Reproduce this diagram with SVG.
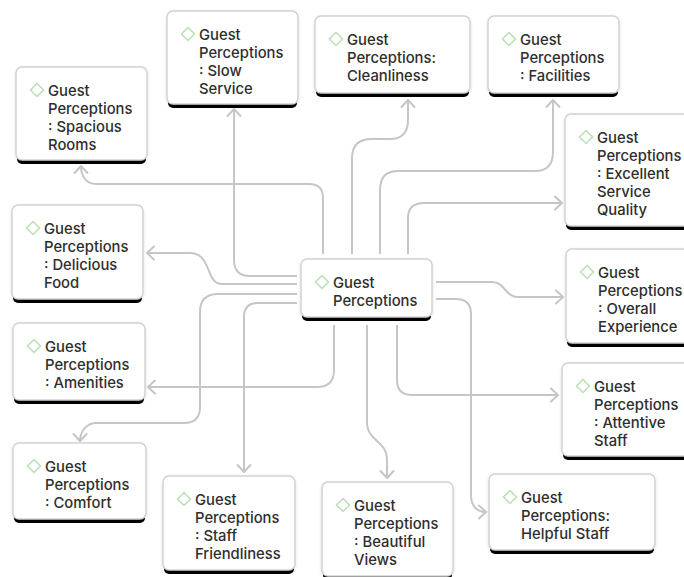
<svg xmlns="http://www.w3.org/2000/svg" width="684" height="577" viewBox="0 0 684 577">
<defs>
<style>
.bar{fill:#000}
.box{fill:#fff;stroke:#d2d2d2;stroke-width:1.5}
.dia{fill:none;stroke:#b9e0b2;stroke-width:1.5}
.t{font-family:Inter,"Liberation Sans",Arial,sans-serif;font-size:14.8px;font-weight:500;fill:#2e2e2e}
.c{fill:none;stroke:#c6c6c6;stroke-width:2}
</style>
<filter id="sh" x="-10%" y="-10%" width="120%" height="130%">
<feDropShadow dx="0" dy="1" stdDeviation="1.5" flood-color="#000" flood-opacity="0.12"/>
</filter>
<marker id="arr" viewBox="-9 -8 11 16" markerWidth="11" markerHeight="16" refX="0" refY="0" orient="auto" markerUnits="userSpaceOnUse">
<path d="M-7,-6.5 L0,0 L-7,6.5" fill="none" stroke="#c6c6c6" stroke-width="2" stroke-linecap="round" stroke-linejoin="round"/>
</marker>
<path id="d" d="M0,-6.5 L6.5,0 L0,6.5 L-6.5,0 Z"/>
</defs>
<rect width="684" height="577" fill="#fff"/>

<g id="connectors">
<path class="c" marker-end="url(#arr)" d="M323,254 V198 Q323,184 309,184 H96 C86,184 81,176 81,166"/>
<path class="c" marker-end="url(#arr)" d="M297,276 H250 Q234,276 234,260 V109"/>
<path class="c" marker-end="url(#arr)" d="M352,254 V158 Q352,139 372,139 H390 Q408,139 408,120 V100"/>
<path class="c" marker-end="url(#arr)" d="M380,254 V190 Q380,171 398,171 H535 Q553,171 553,152 V100"/>
<path class="c" marker-end="url(#arr)" d="M408,254 V218 Q408,203 424,203 H562"/>
<path class="c" marker-end="url(#arr)" d="M297,284 H222 C205,284 212,253 190,253 H147"/>
<path class="c" marker-end="url(#arr)" d="M334,325 V370 Q334,387 317,387 H148"/>
<path class="c" marker-end="url(#arr)" d="M297,294 H218 Q200,294 200,312 V407 Q200,423 184,423 H96 C88,423 80,430 80,441"/>
<path class="c" marker-end="url(#arr)" d="M297,303 H258 Q244,303 244,317 V472"/>
<path class="c" marker-end="url(#arr)" d="M367,325 V422 C367,442 387,440 387,460 V478"/>
<path class="c" marker-end="url(#arr)" d="M436,299 H456 Q471,299 471,314 V495 C471,505 476,512 486,512"/>
<path class="c" marker-end="url(#arr)" d="M436,282 H492 C505,282 505,297 518,297 H563"/>
<path class="c" marker-end="url(#arr)" d="M397,325 V380 Q397,395 412,395 H558"/>
</g>

<g id="n-spacious" transform="translate(16,67)">
<rect class="bar" x="1" y="85" width="129" height="12" rx="5"/>
<rect class="box" width="131" height="93" rx="6" filter="url(#sh)"/>
<use href="#d" class="dia" x="21" y="23"/>
<text class="t" x="32" y="29">Guest<tspan x="32" dy="18">Perceptions</tspan><tspan x="32" dy="18">: Spacious</tspan><tspan x="32" dy="18">Rooms</tspan></text>
</g>

<g id="n-slow" transform="translate(167,11)">
<rect class="bar" x="1" y="85" width="129" height="12" rx="5"/>
<rect class="box" width="131" height="93" rx="6" filter="url(#sh)"/>
<use href="#d" class="dia" x="21" y="23"/>
<text class="t" x="32" y="29">Guest<tspan x="32" dy="18">Perceptions</tspan><tspan x="32" dy="18">: Slow</tspan><tspan x="32" dy="18">Service</tspan></text>
</g>

<g id="n-clean" transform="translate(315,16)">
<rect class="bar" x="1" y="69" width="153" height="12" rx="5"/>
<rect class="box" width="155" height="77" rx="6" filter="url(#sh)"/>
<use href="#d" class="dia" x="21" y="23"/>
<text class="t" x="32" y="29">Guest<tspan x="32" dy="18">Perceptions:</tspan><tspan x="32" dy="18">Cleanliness</tspan></text>
</g>

<g id="n-facilities" transform="translate(488,16)">
<rect class="bar" x="1" y="69" width="129" height="12" rx="5"/>
<rect class="box" width="131" height="77" rx="6" filter="url(#sh)"/>
<use href="#d" class="dia" x="21" y="23"/>
<text class="t" x="32" y="29">Guest<tspan x="32" dy="18">Perceptions</tspan><tspan x="32" dy="18">: Facilities</tspan></text>
</g>

<g id="n-excellent" transform="translate(565,114)">
<rect class="bar" x="1" y="104" width="129" height="12" rx="5"/>
<rect class="box" width="131" height="112" rx="6" filter="url(#sh)"/>
<use href="#d" class="dia" x="21" y="23"/>
<text class="t" x="32" y="29">Guest<tspan x="32" dy="18">Perceptions</tspan><tspan x="32" dy="18">: Excellent</tspan><tspan x="32" dy="18">Service</tspan><tspan x="32" dy="18">Quality</tspan></text>
</g>

<g id="n-delicious" transform="translate(12,205)">
<rect class="bar" x="1" y="86" width="129" height="12" rx="5"/>
<rect class="box" width="131" height="94" rx="6" filter="url(#sh)"/>
<use href="#d" class="dia" x="21" y="23"/>
<text class="t" x="32" y="29">Guest<tspan x="32" dy="18">Perceptions</tspan><tspan x="32" dy="18">: Delicious</tspan><tspan x="32" dy="18">Food</tspan></text>
</g>

<g id="n-amenities" transform="translate(13,323)">
<rect class="bar" x="1" y="69" width="130" height="12" rx="5"/>
<rect class="box" width="132" height="77" rx="6" filter="url(#sh)"/>
<use href="#d" class="dia" x="21" y="23"/>
<text class="t" x="32" y="29">Guest<tspan x="32" dy="18">Perceptions</tspan><tspan x="32" dy="18">: Amenities</tspan></text>
</g>

<g id="n-center" transform="translate(301,259)">
<rect class="bar" x="1" y="50" width="129" height="12" rx="5"/>
<rect class="box" width="131" height="58" rx="6" filter="url(#sh)"/>
<use href="#d" class="dia" x="21" y="23"/>
<text class="t" x="32" y="29">Guest<tspan x="32" dy="18">Perceptions</tspan></text>
</g>

<g id="n-overall" transform="translate(566,249)">
<rect class="bar" x="1" y="86" width="129" height="12" rx="5"/>
<rect class="box" width="131" height="94" rx="6" filter="url(#sh)"/>
<use href="#d" class="dia" x="21" y="23"/>
<text class="t" x="32" y="29">Guest<tspan x="32" dy="18">Perceptions</tspan><tspan x="32" dy="18">: Overall</tspan><tspan x="32" dy="18">Experience</tspan></text>
</g>

<g id="n-attentive" transform="translate(562,363)">
<rect class="bar" x="1" y="85" width="129" height="12" rx="5"/>
<rect class="box" width="131" height="93" rx="6" filter="url(#sh)"/>
<use href="#d" class="dia" x="21" y="23"/>
<text class="t" x="32" y="29">Guest<tspan x="32" dy="18">Perceptions</tspan><tspan x="32" dy="18">: Attentive</tspan><tspan x="32" dy="18">Staff</tspan></text>
</g>

<g id="n-comfort" transform="translate(13,443)">
<rect class="bar" x="1" y="68" width="131" height="12" rx="5"/>
<rect class="box" width="133" height="76" rx="6" filter="url(#sh)"/>
<use href="#d" class="dia" x="21" y="23"/>
<text class="t" x="32" y="29">Guest<tspan x="32" dy="18">Perceptions</tspan><tspan x="32" dy="18">: Comfort</tspan></text>
</g>

<g id="n-staff" transform="translate(163,476)">
<rect class="bar" x="1" y="86" width="130" height="12" rx="5"/>
<rect class="box" width="132" height="94" rx="6" filter="url(#sh)"/>
<use href="#d" class="dia" x="21" y="23"/>
<text class="t" x="32" y="29">Guest<tspan x="32" dy="18">Perceptions</tspan><tspan x="32" dy="18">: Staff</tspan><tspan x="32" dy="18">Friendliness</tspan></text>
</g>

<g id="n-views" transform="translate(322,482)">
<rect class="bar" x="1" y="86" width="129" height="12" rx="5"/>
<rect class="box" width="131" height="94" rx="6" filter="url(#sh)"/>
<use href="#d" class="dia" x="21" y="23"/>
<text class="t" x="32" y="29">Guest<tspan x="32" dy="18">Perceptions</tspan><tspan x="32" dy="18">: Beautiful</tspan><tspan x="32" dy="18">Views</tspan></text>
</g>

<g id="n-helpful" transform="translate(489,474)">
<rect class="bar" x="1" y="68" width="164" height="12" rx="5"/>
<rect class="box" width="166" height="76" rx="6" filter="url(#sh)"/>
<use href="#d" class="dia" x="21" y="23"/>
<text class="t" x="32" y="29">Guest<tspan x="32" dy="18">Perceptions:</tspan><tspan x="32" dy="18">Helpful Staff</tspan></text>
</g>
</svg>
